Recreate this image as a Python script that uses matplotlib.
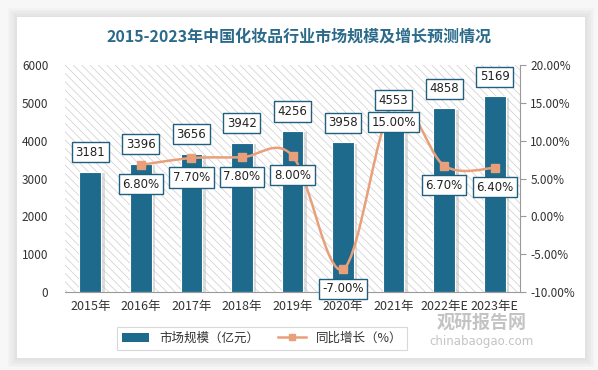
import numpy as np
import matplotlib
matplotlib.use("Agg")
import matplotlib.pyplot as plt
from matplotlib.patches import Rectangle, Patch
from matplotlib.path import Path
from matplotlib.patches import PathPatch
from matplotlib.lines import Line2D

plt.rcParams['font.family'] = ['Noto Sans CJK SC', 'DejaVu Sans']
plt.rcParams['hatch.linewidth'] = 0.5

# data
years = ['2015年', '2016年', '2017年', '2018年', '2019年', '2020年', '2021年', '2022年E', '2023年E']
market = [3181, 3396, 3656, 3942, 4256, 3958, 4553, 4858, 5169]
growth = [None, 6.8, 7.7, 7.8, 8.0, -7.0, 15.0, 6.7, 6.4]

bar_color = '#1d6a8c'
line_color = '#e9a07a'
box_edge = '#1f5f7f'

fig = plt.figure(figsize=(5.98, 3.70), dpi=100)
fig.patch.set_facecolor('#f7f7f7')

# card with soft shadow
cx0, cy0, cw, ch = 17 / 598, 1 - 358 / 370, 568 / 598, 341 / 370
for k in range(6, 0, -1):
    d = k * 1.5
    fig.patches.append(Rectangle((cx0 - d / 598, cy0 - d / 370), cw + 2 * d / 598, ch + 2 * d / 370,
                                 transform=fig.transFigure, facecolor='#c8c8c8', alpha=0.08,
                                 edgecolor='none', zorder=-3))
fig.patches.append(Rectangle((cx0, cy0), cw, ch, transform=fig.transFigure,
                             facecolor='white', edgecolor='none', zorder=-2))

ax = fig.add_axes([65 / 598, 1 - 292 / 370, 455 / 598, 227 / 370])
ax.set_zorder(1)
ax.set_facecolor('none')
ax.add_patch(Rectangle((0, 0), 1, 1, transform=ax.transAxes, facecolor='white',
                       edgecolor='#cdcdcd', hatch='\\\\\\\\', lw=0, zorder=0))

x = np.arange(len(years))
w = 0.43
# bar shadow
ax.bar(x + 0.07, np.array(market) - 40, width=w, color='#bdbdbd', alpha=0.5, zorder=1)
ax.bar(x, market, width=w, color=bar_color, edgecolor='white', linewidth=0.8, zorder=2)

ax.set_xlim(-0.5, len(years) - 0.5)
ax.set_ylim(0, 6000)
ax.set_yticks(range(0, 6001, 1000))
ax.set_xticks(x)
ax.set_xticklabels(years)
ax.tick_params(axis='y', length=0, labelsize=8.5, colors='#333333', pad=12)
ax.tick_params(axis='x', length=0, labelsize=9, colors='#333333', pad=6)
for s in ['top', 'right', 'left']:
    ax.spines[s].set_visible(False)
ax.spines['bottom'].set_color('#9a9a9a')

ax2 = ax.twinx()
ax2.set_zorder(2)
ax2.set_ylim(-10, 20)
ax2.set_yticks(range(-10, 21, 5))
ax2.set_yticklabels(['%.2f%%' % v for v in range(-10, 21, 5)])
ax2.tick_params(axis='y', length=4, color='#9a9a9a', labelsize=8.5, labelcolor='#333333')
for s in ['top', 'left', 'bottom']:
    ax2.spines[s].set_visible(False)
ax2.spines['right'].set_color('#9a9a9a')

# smoothed growth line
gx = [i for i, g in enumerate(growth) if g is not None]
gy = [g for g in growth if g is not None]
verts = [(gx[0], gy[0])]
codes = [Path.MOVETO]
n = len(gx)
for i in range(n - 1):
    p0 = i - 1 if i > 0 else i
    p3 = i + 2 if i + 2 < n else i + 1
    c1 = (gx[i] + (gx[i + 1] - gx[p0]) / 6, gy[i] + (gy[i + 1] - gy[p0]) / 6)
    c2 = (gx[i + 1] - (gx[p3] - gx[i]) / 6, gy[i + 1] - (gy[p3] - gy[i]) / 6)
    verts += [c1, c2, (gx[i + 1], gy[i + 1])]
    codes += [Path.CURVE4] * 3
ax2.add_patch(PathPatch(Path(verts, codes), facecolor='none', edgecolor=line_color, lw=1.8, zorder=3))
ax2.plot(gx, gy, linestyle='none', marker='s', markersize=6, color=line_color, zorder=4)

box = dict(boxstyle='square,pad=0.3', facecolor='white', edgecolor=box_edge, linewidth=1)
for i, v in enumerate(market):
    ax2.annotate(str(v), xy=(i, v), xycoords=ax.transData, xytext=(0, 14), textcoords='offset points',
                 ha='center', va='center', fontsize=8.5, color='#222222', bbox=box, zorder=5,
                 family=['DejaVu Sans'])
for i, g in zip(gx, gy):
    ax2.annotate('%.2f%%' % g, xy=(i, g), xycoords='data', xytext=(0, -14), textcoords='offset points',
                 ha='center', va='center', fontsize=8.5, color='#222222', bbox=box, zorder=6,
                 family=['DejaVu Sans'])

fig.text(0.5, 1 - 37 / 370, '2015-2023年中国化妆品行业市场规模及增长预测情况', ha='center', va='center',
         fontsize=11.5, fontweight='bold', color='#2b6a8a', zorder=3)

handles = [Patch(facecolor=bar_color, edgecolor='none'),
           Line2D([0], [0], color=line_color, lw=1.8, marker='s', markersize=5)]
leg = fig.legend(handles, ['市场规模（亿元）', '同比增长（%）'], loc='center',
                 bbox_to_anchor=(262 / 598, 1 - 338 / 370), ncol=2, fontsize=9, frameon=True,
                 fancybox=False, edgecolor='#cfcfcf', handlelength=2.2, columnspacing=1.5,
                 borderpad=0.4)
leg.get_frame().set_linewidth(0.8)
for t in leg.get_texts():
    t.set_color('#333333')

# watermark
fig.text(0.805, 1 - 322 / 370, '观研报告网', ha='center', va='center', fontsize=13,
         fontweight='bold', color='#b5b5b5', alpha=0.8, zorder=3)
fig.text(0.805, 1 - 341 / 370, 'chinabaogao.com', ha='center', va='center', fontsize=8.5,
         color='#b5b5b5', alpha=0.8, zorder=3, family=['DejaVu Sans'])

fig.savefig('out.png', dpi=100, facecolor=fig.get_facecolor())
